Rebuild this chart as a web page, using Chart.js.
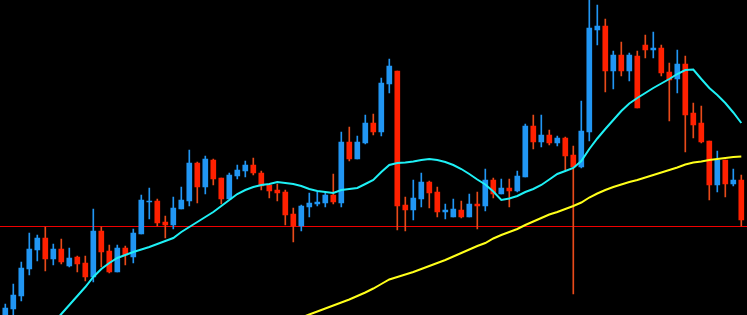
<!DOCTYPE html>
<html lang="en">
<head>
  <meta charset="UTF-8" />
  <title>Candles</title>
  <script src="https://cdn.jsdelivr.net/npm/chart.js"></script>
  <style>
    html, body {
      margin: 0;
      padding: 0;
      background: #000;
    }
    .chart-box {
      width: 747px;
      height: 315px;
      position: relative;
    }
  </style>
</head>
<body>
  <div class="chart-box">
    <canvas id="candleChart"></canvas>
  </div>

  <script>
    // price values (one per candle)
    const open  = [-3, 6, 19, 46, 65, 77, 56, 66, 49, 58, 52, 38, 84, 64, 43, 67, 58, 81, 113, 114,
                   93, 90, 106, 114, 152, 128, 155, 137, 116, 139, 144, 150, 142, 130, 125, 123, 101, 89, 108, 111,
                   112, 120, 112, 173, 156, 172, 192, 183, 231, 244, 110, 105, 116, 133, 123, 103, 98, 105, 98, 111,
                   109, 135, 121, 127, 124, 138, 189, 173, 180, 172, 177, 160, 148, 183, 285, 289, 244, 260, 244, 259,
                   270, 265, 267, 243, 236, 251, 202, 192, 174, 130, 155, 131, 135];
    const close = [7, 20, 47, 66, 77, 56, 66, 53, 57, 51, 38, 84, 63, 43, 67, 60, 82, 115, 114, 92,
                   90, 107, 115, 152, 128, 156, 136, 116, 140, 145, 150, 142, 129, 124, 122, 100, 89, 109, 112, 113,
                   120, 113, 173, 156, 173, 192, 183, 232, 249, 109, 105, 117, 133, 122, 103, 105, 106, 98, 111, 109,
                   135, 121, 127, 124, 139, 189, 173, 180, 172, 177, 159, 148, 184, 287, 289, 244, 260, 244, 260, 207,
                   265, 267, 242, 235, 251, 200, 190, 173, 130, 155, 131, 135, 95];
    const high  = [11, 31, 53, 82, 80, 88, 71, 76, 67, 59, 59, 106, 88, 70, 70, 69, 86, 120, 127, 116,
                   99, 118, 128, 165, 153, 159, 156, 137, 142, 150, 154, 157, 144, 130, 131, 125, 107, 110, 122, 123,
                   123, 141, 183, 188, 179, 200, 201, 237, 256, 244, 118, 135, 142, 134, 128, 111, 116, 114, 121, 123,
                   146, 137, 136, 136, 144, 191, 200, 200, 185, 179, 178, 169, 214, 318, 310, 296, 264, 273, 262, 264,
                   280, 283, 270, 252, 265, 259, 212, 209, 174, 164, 155, 146, 140];
    const low   = [-7, 0, 14, 40, 54, 44, 50, 51, 48, 43, 34, 33, 48, 42, 43, 50, 52, 81, 96, 89,
                   77, 86, 106, 109, 112, 121, 130, 111, 116, 136, 138, 140, 125, 117, 114, 90, 73, 84, 98, 109,
                   108, 111, 108, 154, 156, 171, 180, 179, 222, 85, 84, 95, 108, 107, 98, 96, 98, 97, 98, 86,
                   104, 117, 121, 108, 123, 138, 166, 168, 170, 169, 145, 21, 147, 174, 270, 223, 226, 239, 234, 207,
                   257, 257, 239, 194, 222, 163, 177, 172, 115, 123, 118, 129, 89];

    // moving averages (null = off screen)
    const maFast = [null, null, null, null, null, null, -8, 1, 10, 19, 28, 38, 46, 52, 57, 60, 63, 65.5, 68, 71,
                    74, 77, 83, 88, 93, 98, 103, 109, 115, 121, 125, 128, 130, 131, 133, 132, 131, 129, 126, 124,
                    123, 122, 125, 126, 127, 131, 135, 143, 150, 152, 152.5, 153.5, 155, 156, 155, 153, 150, 146, 141, 135.5,
                    130.5, 123.5, 115, 116.5, 119, 123, 126, 130, 135.5, 141, 144, 147, 154, 166, 176.5, 186, 195, 204, 211.5, 217,
                    222, 227, 231.5, 236, 241, 245, 245.5, 236, 227, 220, 212, 202.5, 192];
    const maSlow = [null, null, null, null, null, null, null, null, null, null, null, null, null, null, null, null, null, null, null, null,
                    null, null, null, null, null, null, null, null, null, null, null, null, null, null, null, null, null, -2.5, 0.5, 3.5,
                    6.5, 9.5, 12.5, 15.5, 19, 22.5, 26.5, 31, 35.5, 38, 40.5, 43, 46, 49, 52, 55, 58.5, 62, 65.5, 69,
                    72, 76.5, 80, 83, 86, 90, 93.5, 97, 100.5, 103, 106, 109, 112.5, 117.5, 121.5, 125, 128, 130.5, 133, 135,
                    137.5, 140, 142.5, 145, 147.5, 150.5, 152.5, 153.5, 155, 156, 157, 158, 158.5];

    const level = 89;

    const labels = open.map((_, i) => String(i + 1));
    const bodies = open.map((o, i) => [o, close[i]]);
    const wicks = low.map((l, i) => [l, high[i]]);
    const isUp = open.map((o, i) => close[i] >= o);
    const bodyColors = isUp.map(up => up ? '#2196F3' : '#FF2000');
    const wickColors = isUp.map(up => up ? '#2196F3' : '#E84A1A');

    // horizontal level line across the full width
    const levelLine = {
      id: 'levelLine',
      beforeDatasetsDraw(chart) {
        const y = Math.floor(chart.scales.y.getPixelForValue(level));
        const ctx = chart.ctx;
        ctx.save();
        ctx.fillStyle = '#F00000';
        ctx.fillRect(0, y, chart.width, 1);
        ctx.restore();
      }
    };

    new Chart(document.getElementById('candleChart'), {
      type: 'bar',
      data: {
        labels: labels,
        datasets: [
          {
            type: 'line',
            data: maFast,
            borderColor: '#1EF0F5',
            borderWidth: 2,
            pointRadius: 0,
            tension: 0,
            order: 1
          },
          {
            type: 'line',
            data: maSlow,
            borderColor: '#FFFF1A',
            borderWidth: 2,
            pointRadius: 0,
            tension: 0,
            order: 1
          },
          {
            data: bodies,
            backgroundColor: bodyColors,
            barThickness: 5,
            grouped: false,
            order: 2
          },
          {
            data: wicks,
            backgroundColor: wickColors,
            barThickness: 1,
            grouped: false,
            order: 3
          }
        ]
      },
      options: {
        responsive: true,
        maintainAspectRatio: false,
        animation: false,
        layout: { padding: { left: 1.3, right: 1.7, top: 0, bottom: 0 } },
        plugins: {
          legend: { display: false },
          tooltip: { enabled: false }
        },
        scales: {
          x: { display: false, offset: true },
          y: { display: false, min: 0, max: 315 }
        }
      },
      plugins: [levelLine]
    });
  </script>
</body>
</html>
